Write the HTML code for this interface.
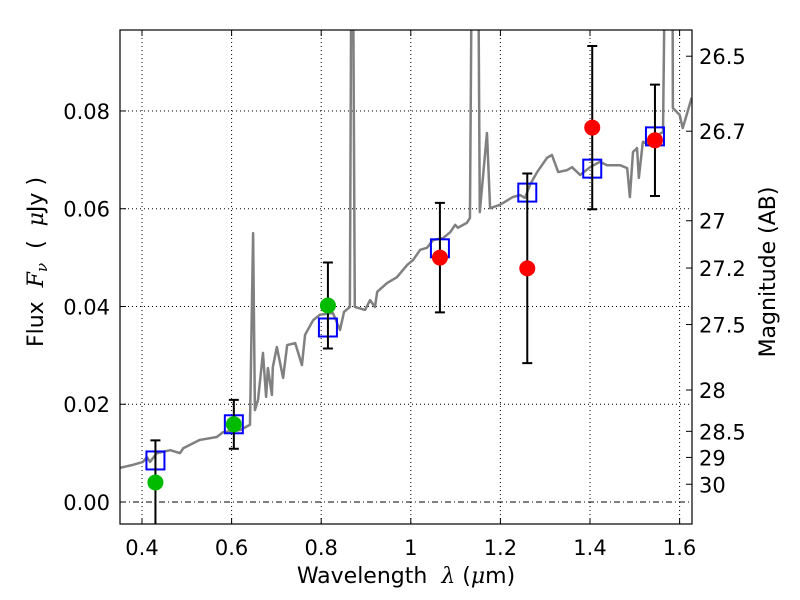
<!DOCTYPE html>
<html><head><meta charset="utf-8"><style>
body{margin:0;background:#fff;}
svg{display:block;font-family:"DejaVu Sans","Liberation Sans",sans-serif;}
</style></head><body>
<svg id="chart" width="800" height="600" viewBox="0 0 800 600">
<defs><clipPath id="plotclip"><rect x="120" y="30" width="572" height="494"/></clipPath></defs>
<rect x="0" y="0" width="800" height="600" fill="#fff"/>
<g id="grid"></g>
<g id="spec" clip-path="url(#plotclip)"></g>
<g id="marks" clip-path="url(#plotclip)"></g>
<g id="axes"></g>
<text x="406" y="583" font-size="22" text-anchor="middle">Wavelength&#160;&#160;<tspan font-family="DejaVu Serif" font-style="italic">λ</tspan>&#160;(<tspan font-family="DejaVu Serif" font-style="italic">μ</tspan>m)</text>
<text transform="translate(43,262) rotate(-90)" font-size="22" text-anchor="middle">Flux&#160;&#160;<tspan font-family="DejaVu Serif" font-style="italic">F</tspan><tspan font-family="DejaVu Serif" font-style="italic" font-size="15" dy="4">ν</tspan><tspan dy="-4">&#160;&#160;(&#160;&#160;</tspan><tspan font-family="DejaVu Serif" font-style="italic">μ</tspan>Jy&#160;)</text>
<text transform="translate(775,272) rotate(-90)" font-size="22" text-anchor="middle">Magnitude (AB)</text>
</svg>
<script>
const specLam=[0.351,0.380,0.402,0.411,0.418,0.433,0.463,0.485,0.492,0.529,0.567,0.581,0.619,0.641,0.648,0.652,0.659,0.670,0.677,0.681,0.690,0.692,0.701,0.715,0.724,0.742,0.757,0.764,0.782,0.797,0.826,0.842,0.851,0.864,0.869,0.875,0.898,0.909,0.920,0.925,0.947,0.969,0.992,1.005,1.021,1.036,1.050,1.072,1.088,1.099,1.105,1.125,1.132,1.139,1.148,1.154,1.170,1.177,1.199,1.228,1.244,1.255,1.266,1.282,1.304,1.315,1.329,1.349,1.360,1.378,1.400,1.422,1.438,1.467,1.483,1.489,1.496,1.505,1.509,1.518,1.534,1.541,1.563,1.572,1.583,1.585,1.600,1.607,1.627];
const specFlux=[0.0070,0.0076,0.0082,0.0092,0.0082,0.0100,0.0106,0.0100,0.0110,0.0127,0.0133,0.0143,0.0147,0.0158,0.0550,0.0188,0.0209,0.0305,0.0215,0.0274,0.0219,0.0276,0.0317,0.0254,0.0321,0.0325,0.0280,0.0342,0.0372,0.0383,0.0387,0.0352,0.0389,0.0399,0.15,0.0399,0.0393,0.0413,0.0399,0.0430,0.0448,0.0460,0.0485,0.0495,0.0516,0.0520,0.0536,0.0540,0.0552,0.0567,0.0561,0.0571,0.0581,0.15,0.15,0.0593,0.0755,0.0601,0.0608,0.0624,0.0628,0.0622,0.0649,0.0675,0.0704,0.0710,0.0675,0.0679,0.0685,0.0669,0.0685,0.0696,0.0689,0.0689,0.0683,0.0624,0.0716,0.0724,0.0663,0.0737,0.0730,0.0745,0.0757,0.15,0.15,0.0806,0.0792,0.0765,0.0827];
const bandLam=[0.43,0.605,0.815,1.065,1.26,1.405,1.545];
const modelFlux=[0.0085,0.0159,0.0357,0.0519,0.0633,0.0682,0.0748];
const obsFlux=[0.0040,0.0159,0.0402,0.0500,0.0478,0.0766,0.0740];
const obsErr=[0.0086,0.0050,0.0088,0.0112,0.0194,0.0167,0.0114];
const obsColor=["#00bb00","#00bb00","#00bb00","#ff0000","#ff0000","#ff0000","#ff0000"];
const xTicks=[0.4,0.6,0.8,1.0,1.2,1.4,1.6];
const xTickLabels=["0.4","0.6","0.8","1","1.2","1.4","1.6"];
const yTicks=[0,0.02,0.04,0.06,0.08];
const yTickLabels=["0.00","0.02","0.04","0.06","0.08"];
const magTicks=[26.5,26.7,27,27.2,27.5,28,28.5,29,30];
const magTickLabels=["26.5","26.7","27","27.2","27.5","28","28.5","29","30"];

const L=120,R=692,T=30,B=524;
const xS=v=>142+(v-0.4)*448;
const yS=v=>502-v*4888;
const magToFlux=m=>Math.pow(10,-(m-23.9)/2.5);
const NS="http://www.w3.org/2000/svg";
function mk(parent,tag,attrs){const e=document.createElementNS(NS,tag);for(const k in attrs)e.setAttribute(k,attrs[k]);parent.appendChild(e);return e;}
const grid=document.getElementById('grid'),spec=document.getElementById('spec'),marks=document.getElementById('marks'),axes=document.getElementById('axes');

xTicks.forEach((t,i)=>{
  const g=mk(grid,'line',{x1:xS(t),x2:xS(t),y1:T,y2:B,stroke:'#000','stroke-width':1,'stroke-dasharray':'1,3'});
  
  
  const tk=mk(axes,'path',{d:`M${xS(t)},${B}v-6M${xS(t)},${T}v6`,stroke:'#000','stroke-width':1});
  
  
  const lb=mk(axes,'text',{x:xS(t),y:555,'font-size':21,'text-anchor':'middle'});
  lb.textContent=xTickLabels[i];
  
  
});
yTicks.forEach((t,i)=>{
  if(t!==0){
    const g=mk(grid,'line',{x1:L,x2:R,y1:yS(t),y2:yS(t),stroke:'#000','stroke-width':1,'stroke-dasharray':'1,3'});
    
    
  }
  const tk=mk(axes,'path',{d:`M${L},${yS(t)}h6`,stroke:'#000','stroke-width':1});
  
  
  const lb=mk(axes,'text',{x:110,y:yS(t)+8,'font-size':21,'text-anchor':'end'});
  lb.textContent=yTickLabels[i];
  
  
});
const zl=mk(grid,'line',{x1:L,x2:R,y1:yS(0),y2:yS(0),stroke:'#000','stroke-width':1,'stroke-dasharray':'6,3,1,3'});



magTicks.forEach((m,i)=>{
  const y=yS(magToFlux(m));
  const tk=mk(axes,'path',{d:`M${R},${y}h-6`,stroke:'#000','stroke-width':1});
  
  
  const lb=mk(axes,'text',{x:699,y:y+8,'font-size':21});
  lb.textContent=magTickLabels[i];
  
  
});

const sp=mk(spec,'polyline',{points:specLam.map((l,i)=>xS(l)+','+yS(specFlux[i])).join(' '),fill:'none',stroke:'#808080','stroke-width':2.5,'stroke-linejoin':'round'});



bandLam.forEach((l,i)=>{
  const x=xS(l);
  const sq=mk(marks,'rect',{x:x-9,y:yS(modelFlux[i])-9,width:18,height:18,fill:'none',stroke:'#0000ff','stroke-width':2});
  
  
  const y1=yS(obsFlux[i]+obsErr[i]),y2=yS(obsFlux[i]-obsErr[i]);
  const eb=mk(marks,'path',{d:`M${x},${y1}V${y2}M${x-5},${y1}h10M${x-5},${y2}h10`,stroke:'#000','stroke-width':2,fill:'none'});
  
  
  const c=mk(marks,'circle',{cx:x,cy:yS(obsFlux[i]),r:8,fill:obsColor[i]});
  
  
});

const fr=mk(axes,'rect',{x:L,y:T,width:R-L,height:B-T,fill:'none',stroke:'#000','stroke-width':1.2});


</script>
</body></html>
